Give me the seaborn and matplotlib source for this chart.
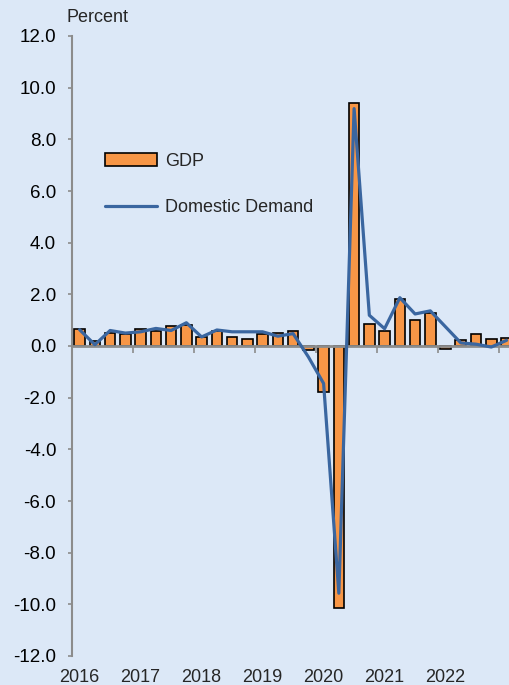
import matplotlib
matplotlib.use("Agg")
import matplotlib.pyplot as plt
from matplotlib.lines import Line2D
from matplotlib.patches import Patch
from matplotlib import transforms
import numpy as np
import pandas as pd
import seaborn as sns

# quarterly growth, percent (2016Q1 - 2023Q1)
quarters = [f"{y}Q{q}" for y in range(2016, 2023) for q in range(1, 5)] + ["2023Q1"]
gdp = [0.65, 0.18, 0.52, 0.45,
       0.65, 0.57, 0.76, 0.80,
       0.33, 0.60, 0.33, 0.26,
       0.48, 0.50, 0.57, -0.15,
       -1.78, -10.15, 9.42, 0.87,
       0.60, 1.82, 1.00, 1.29,
       -0.13, 0.22, 0.48, 0.29,
       0.32]
domestic_demand = [0.63, 0.05, 0.60, 0.50,
                   0.55, 0.68, 0.60, 0.90,
                   0.35, 0.62, 0.55, 0.55,
                   0.55, 0.38, 0.48, -0.42,
                   -1.45, -9.57, 9.19, 1.19,
                   0.67, 1.87, 1.24, 1.36,
                   0.74, 0.12, 0.07, -0.04,
                   0.22]
year_labels = ["2016", "2017", "2018", "2019", "2020", "2021", "2022"]

BG = "#DCE8F7"
BAR = "#F79646"
LINE = "#3A66A0"
AXIS = "#8C8C8C"

sns.set_style("white")
plt.rcParams["font.family"] = ["Liberation Sans", "DejaVu Sans"]
plt.rcParams["axes.unicode_minus"] = False

df = pd.DataFrame({"Quarter": quarters, "GDP": gdp, "Domestic": domestic_demand})
df["pos"] = np.arange(len(df))

fig = plt.figure(figsize=(5.1, 6.85), dpi=100, facecolor=BG)
ax = fig.add_axes([72 / 510, 29 / 685, 442.2 / 510, 620 / 685], facecolor=BG)

sns.barplot(data=df, x="Quarter", y="GDP", order=quarters, color=BAR,
            edgecolor="black", linewidth=1.2, width=0.7, saturation=1,
            errorbar=None, ax=ax)
sns.lineplot(data=df, x="pos", y="Domestic", color=LINE, linewidth=2.3,
             ax=ax, zorder=4)

ax.set_xlim(-0.5, 28.5)
ax.set_ylim(-12, 12)
ax.set_yticks(np.arange(-12, 12.1, 2))
ax.set_yticklabels([f"{v:.1f}" for v in np.arange(-12, 12.1, 2)], fontsize=13.5)

for s in ["top", "right"]:
    ax.spines[s].set_visible(False)
ax.spines["left"].set_color(AXIS)
ax.spines["left"].set_linewidth(1.5)
ax.spines["bottom"].set_position(("data", 0))
ax.spines["bottom"].set_color(AXIS)
ax.spines["bottom"].set_linewidth(2)
ax.spines["bottom"].set_zorder(3)

ax.set_xticks(np.arange(3.5, len(quarters), 4))
ax.set_xticklabels([])
ax.tick_params(axis="x", bottom=True, direction="out", length=5, width=1.2,
               color=AXIS)
ax.tick_params(axis="y", left=True, direction="out", length=3, width=1.2,
               color=AXIS, pad=8.4, labelcolor="black")
ax.set_xlabel("")
ax.set_ylabel("")

trans = transforms.blended_transform_factory(ax.transData, ax.transAxes)
for i, lab in enumerate(year_labels):
    ax.text(i * 4, -0.035, lab, transform=trans, ha="center", va="center",
            fontsize=13)

fig.text(66 / 510, 1 - 18 / 685, "Percent", ha="left", va="center", fontsize=13)

handles = [Patch(facecolor=BAR, edgecolor="black", linewidth=1.2, label="GDP"),
           Line2D([], [], color=LINE, linewidth=2.3, label="Domestic Demand")]
ax.legend(handles=handles, loc="upper left", bbox_to_anchor=(0.0746, 0.812),
          frameon=False, fontsize=13, handlelength=2.9, handletextpad=0.45,
          labelspacing=1.65, borderpad=0, borderaxespad=0)

fig.savefig("out.png", dpi=100, facecolor=BG)
